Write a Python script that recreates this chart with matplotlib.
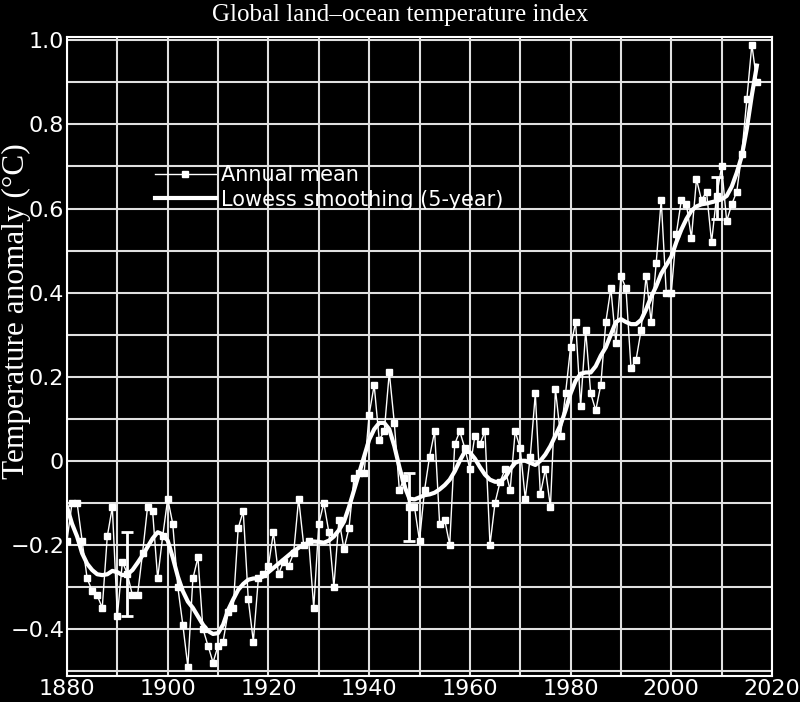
import matplotlib
matplotlib.use("Agg")
import matplotlib.pyplot as plt
from matplotlib.ticker import FixedLocator, FixedFormatter

years = list(range(1880, 2018))

annual = [
    -0.19, -0.10, -0.10, -0.19, -0.28, -0.31, -0.32, -0.35, -0.18, -0.11,
    -0.37, -0.24, -0.27, -0.32, -0.32, -0.22, -0.11, -0.12, -0.28, -0.18,
    -0.09, -0.15, -0.30, -0.39, -0.49, -0.28, -0.23, -0.40, -0.44, -0.48,
    -0.44, -0.43, -0.36, -0.35, -0.16, -0.12, -0.33, -0.43, -0.28, -0.27,
    -0.25, -0.17, -0.27, -0.24, -0.25, -0.22, -0.09, -0.20, -0.19, -0.35,
    -0.15, -0.10, -0.17, -0.30, -0.14, -0.21, -0.16, -0.04, -0.03, -0.03,
    0.11, 0.18, 0.05, 0.07, 0.21, 0.09, -0.07, -0.04, -0.11, -0.11,
    -0.19, -0.07, 0.01, 0.07, -0.15, -0.14, -0.20, 0.04, 0.07, 0.03,
    -0.02, 0.06, 0.04, 0.07, -0.20, -0.10, -0.05, -0.02, -0.07, 0.07,
    0.03, -0.09, 0.01, 0.16, -0.08, -0.02, -0.11, 0.17, 0.06, 0.16,
    0.27, 0.33, 0.13, 0.31, 0.16, 0.12, 0.18, 0.33, 0.41, 0.28,
    0.44, 0.41, 0.22, 0.24, 0.31, 0.44, 0.33, 0.47, 0.62, 0.40,
    0.40, 0.54, 0.62, 0.61, 0.53, 0.67, 0.62, 0.64, 0.52, 0.63,
    0.70, 0.57, 0.61, 0.64, 0.73, 0.86, 0.99, 0.90,
]

lowess = [
    -0.11, -0.15, -0.18, -0.22, -0.245, -0.26, -0.27, -0.272, -0.27, -0.262,
    -0.265, -0.272, -0.27, -0.26, -0.243, -0.225, -0.205, -0.185, -0.17, -0.175,
    -0.19, -0.23, -0.275, -0.31, -0.335, -0.35, -0.37, -0.39, -0.405, -0.412,
    -0.41, -0.39, -0.355, -0.33, -0.307, -0.293, -0.283, -0.28, -0.28, -0.275,
    -0.265, -0.255, -0.245, -0.235, -0.225, -0.215, -0.207, -0.20, -0.195, -0.192,
    -0.193, -0.195, -0.19, -0.18, -0.165, -0.145, -0.11, -0.07, -0.03, 0.01,
    0.05, 0.075, 0.09, 0.09, 0.075, 0.035, -0.015, -0.06, -0.09, -0.092,
    -0.087, -0.082, -0.08, -0.076, -0.068, -0.058, -0.045, -0.025, 0.0, 0.022,
    0.02, 0.005, -0.015, -0.033, -0.045, -0.05, -0.05, -0.04, -0.02, -0.005,
    0.0, 0.0, -0.005, -0.01, 0.0, 0.015, 0.035, 0.06, 0.085, 0.12,
    0.16, 0.19, 0.207, 0.21, 0.21, 0.225, 0.25, 0.27, 0.30, 0.33,
    0.337, 0.33, 0.325, 0.325, 0.335, 0.36, 0.39, 0.415, 0.445, 0.465,
    0.485, 0.52, 0.55, 0.575, 0.595, 0.605, 0.61, 0.612, 0.615, 0.618,
    0.622, 0.63, 0.652, 0.685, 0.725, 0.79, 0.87, 0.94,
]

err_years = [1892, 1948, 2009]
err_values = [-0.27, -0.11, 0.626]
err_sizes = [0.10, 0.08, 0.05]

x_major = [1880, 1900, 1920, 1940, 1960, 1980, 2000, 2020]
x_labels = ["1880", "1900", "1920", "1940", "1960", "1980", "2000", "2020"]
x_minor = [1890, 1910, 1930, 1950, 1970, 1990, 2010]
y_major = [-0.4, -0.2, 0.0, 0.2, 0.4, 0.6, 0.8, 1.0]
y_labels = ["\u22120.4", "\u22120.2", "0", "0.2", "0.4", "0.6", "0.8", "1.0"]
y_minor = [-0.5, -0.3, -0.1, 0.1, 0.3, 0.5, 0.7, 0.9]

fig = plt.figure(figsize=(8, 7.02), dpi=100, facecolor="black")
ax = fig.add_axes([67 / 800, 26 / 702, 705 / 800, 639 / 702])
ax.set_facecolor("black")
ax.set_xlim(1880, 2020)
ax.set_ylim(-0.512, 1.008)

ax.xaxis.set_major_locator(FixedLocator(x_major))
ax.xaxis.set_major_formatter(FixedFormatter(x_labels))
ax.xaxis.set_minor_locator(FixedLocator(x_minor))
ax.yaxis.set_major_locator(FixedLocator(y_major))
ax.yaxis.set_major_formatter(FixedFormatter(y_labels))
ax.yaxis.set_minor_locator(FixedLocator(y_minor))

ax.grid(True, which="both", color="#e0e0e0", lw=1.5)
ax.set_axisbelow(True)
ax.tick_params(which="both", length=0, colors="white", labelsize=16)
ax.tick_params(axis="x", pad=2)
ax.tick_params(axis="y", pad=2)
for s in ax.spines.values():
    s.set_color("white")
    s.set_linewidth(1.5)

l1, = ax.plot(years, annual, color="white", lw=1, marker="s", ms=5,
              mfc="white", mec="white", label="Annual mean", zorder=3)
l2, = ax.plot(years, lowess, color="white", lw=3,
              label="Lowess smoothing (5-year)", zorder=4)
ax.errorbar(err_years, err_values, yerr=err_sizes, fmt="none", ecolor="white",
            elinewidth=2, capsize=4, capthick=2, zorder=3)

leg = ax.legend(handles=[l1, l2], loc="center left", bbox_to_anchor=(0.125, 0.7645),
                frameon=False, fontsize=15, handlelength=2.9, handletextpad=0.25,
                labelspacing=0.2, borderpad=0, borderaxespad=0, labelcolor="white")

fig.text(0.5, 1 - 15 / 702, "Global land\u2013ocean temperature index",
         ha="center", va="center", family="Liberation Serif", size=18, color="white")
fig.text(16 / 800, 1 - 311 / 702, "Temperature anomaly (\u00b0C)", rotation=90,
         ha="center", va="center", family="Liberation Serif", size=22.5, color="white")

fig.savefig("out.png", dpi=100, facecolor="black")
